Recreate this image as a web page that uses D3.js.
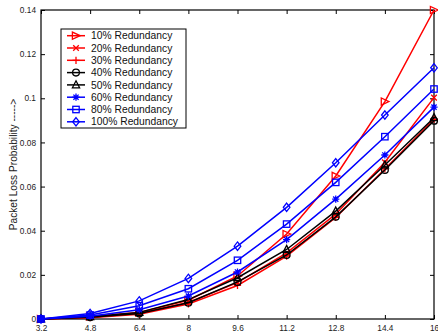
<!DOCTYPE html>
<html><head><meta charset="utf-8">
<script src="https://cdn.jsdelivr.net/npm/d3@7"></script>
<style>body{margin:0;background:#fff}svg{display:block}text{font-family:"Liberation Sans",Arial,sans-serif}</style>
</head><body><svg id="c" width="438" height="336"></svg>
<script>
const xValues = [3.2, 4.8, 6.4, 8, 9.6, 11.2, 12.8, 14.4, 16];
const xTickLabels = ["3.2","4.8","6.4","8","9.6","11.2","12.8","14.4","16"];
const yTicks = [0, 0.02, 0.04, 0.06, 0.08, 0.1, 0.12, 0.14];
const yTickLabels = ["0","0.02","0.04","0.06","0.08","0.1","0.12","0.14"];
const seriesNames = ["10% Redundancy","20% Redundancy","30% Redundancy","40% Redundancy","50% Redundancy","60% Redundancy","80% Redundancy","100% Redundancy"];
const r10  = [0, 0.0012, 0.0030, 0.0085, 0.0195, 0.0385, 0.0648, 0.0985, 0.1400];
const r20  = [0, 0.0008, 0.0027, 0.0075, 0.0165, 0.0300, 0.0475, 0.0710, 0.1003];
const r30  = [0, 0.0006, 0.0022, 0.0068, 0.0152, 0.0285, 0.0460, 0.0680, 0.0905];
const r40  = [0, 0.0008, 0.0025, 0.0074, 0.0168, 0.0290, 0.0463, 0.0675, 0.0898];
const r50  = [0, 0.0010, 0.0030, 0.0088, 0.0187, 0.0315, 0.0489, 0.0698, 0.0912];
const r60  = [0, 0.0013, 0.0042, 0.0104, 0.0213, 0.0360, 0.0543, 0.0743, 0.0960];
const r80  = [0, 0.0018, 0.0060, 0.0137, 0.0266, 0.0430, 0.0619, 0.0826, 0.1042];
const r100 = [0, 0.0025, 0.0082, 0.0184, 0.0330, 0.0506, 0.0708, 0.0924, 0.1138];
const seriesValues = [r10, r20, r30, r40, r50, r60, r80, r100];
const seriesColors = ["#ff0000","#ff0000","#ff0000","#000000","#000000","#0000ff","#0000ff","#0000ff"];
const seriesMarkers = ["triRight","x","plus","circle","triUp","star","square","diamond"];
const yLabel = "Packet Loss Probability ----->";

const svg = d3.select("#c");
const L = 41, R = 434, T = 10, B = 319;
const x = d3.scaleLinear().domain([3.2, 16]).range([L, R]);
const y = d3.scaleLinear().domain([0, 0.14]).range([B, T]);

const plot = svg.append("g");
const ax = d3.axisBottom(x).tickValues(xValues).tickFormat((d,i)=>xTickLabels[i]).tickSizeInner(-4).tickSizeOuter(0).tickPadding(6);
const gx = svg.append("g").attr("transform",`translate(0,${B})`).call(ax);
const axT = d3.axisTop(x).tickValues(xValues).tickFormat("").tickSizeInner(-4).tickSizeOuter(0);
const gxt = svg.append("g").attr("transform",`translate(0,${T})`).call(axT);
const ay = d3.axisLeft(y).tickValues(yTicks).tickFormat((d,i)=>yTickLabels[i]).tickSizeInner(-4).tickSizeOuter(0).tickPadding(5);
const gy = svg.append("g").attr("transform",`translate(${L},0)`).call(ay);
const ayR = d3.axisRight(y).tickValues(yTicks).tickFormat("").tickSizeInner(-4).tickSizeOuter(0);
const gyr = svg.append("g").attr("transform",`translate(${R},0)`).call(ayR);
[gx,gxt,gy,gyr].forEach(g=>{
  g.select(".domain").remove();
  g.selectAll("line").attr("stroke","#000").attr("stroke-width",1);
  g.selectAll("text").attr("fill","#222").style("font-size","8.3px").style("font-family","'Liberation Sans',Arial,sans-serif");
});
svg.append("rect").attr("x",L).attr("y",T).attr("width",R-L).attr("height",B-T).attr("fill","none").attr("stroke","#000").attr("stroke-width",1.2);

svg.append("text").attr("transform",`translate(17,${(T+B)/2}) rotate(-90)`).attr("text-anchor","middle")
  .style("font-size","10.2px").attr("fill","#222").text(yLabel);

function marker(g, type, cx, cy, color){
  const s = 3.6;
  const st = {stroke:color, "stroke-width":1.3, fill:"none"};
  let el;
  if (type==="triRight") el = g.append("path").attr("d",`M${cx+s+0.5},${cy} L${cx-s},${cy-s} L${cx-s},${cy+s} Z`);
  else if (type==="triUp") el = g.append("path").attr("d",`M${cx},${cy-s-0.5} L${cx+s},${cy+s*0.8} L${cx-s},${cy+s*0.8} Z`);
  else if (type==="x") el = g.append("path").attr("d",`M${cx-2.8},${cy-2.8}L${cx+2.8},${cy+2.8}M${cx-2.8},${cy+2.8}L${cx+2.8},${cy-2.8}`);
  else if (type==="plus") el = g.append("path").attr("d",`M${cx-3.6},${cy}L${cx+3.6},${cy}M${cx},${cy-3.6}L${cx},${cy+3.6}`);
  else if (type==="circle") el = g.append("circle").attr("cx",cx).attr("cy",cy).attr("r",3.4);
  else if (type==="star") el = g.append("path").attr("d",`M${cx-3.6},${cy}L${cx+3.6},${cy}M${cx},${cy-3.6}L${cx},${cy+3.6}M${cx-2.6},${cy-2.6}L${cx+2.6},${cy+2.6}M${cx-2.6},${cy+2.6}L${cx+2.6},${cy-2.6}`);
  else if (type==="square") el = g.append("rect").attr("x",cx-3.2).attr("y",cy-3.2).attr("width",6.4).attr("height",6.4);
  else if (type==="diamond") el = g.append("path").attr("d",`M${cx},${cy-4.2}L${cx+3.3},${cy}L${cx},${cy+4.2}L${cx-3.3},${cy}Z`);
  for (const k in st) el.attr(k, st[k]);
}

const line = d3.line().x((d,i)=>x(xValues[i])).y(d=>y(d));
svg.append("clipPath").attr("id","pc").append("rect").attr("x",L-6).attr("y",T-6).attr("width",R-L+12).attr("height",B-T+12);
const data = plot.attr("clip-path","url(#pc)");
seriesValues.forEach((vals, si)=>{
  const g = data.append("g");
  g.append("path").attr("d", line(vals)).attr("fill","none").attr("stroke",seriesColors[si]).attr("stroke-width",1.5);
  vals.forEach((v,i)=>marker(g, seriesMarkers[si], x(xValues[i]), y(v), seriesColors[si]));
});
plot.raise();

const lg = svg.append("g");
lg.append("rect").attr("x",61).attr("y",29).attr("width",125).attr("height",99).attr("fill","#fff").attr("stroke","#000").attr("stroke-width",1);
seriesNames.forEach((n, i)=>{
  const ly = 35.7 + i*12.3;
  lg.append("line").attr("x1",67).attr("x2",85).attr("y1",ly).attr("y2",ly).attr("stroke",seriesColors[i]).attr("stroke-width",1.5);
  marker(lg, seriesMarkers[i], 76, ly, seriesColors[i]);
  lg.append("text").attr("x",91).attr("y",ly+3.6).style("font-size","10.3px").attr("fill","#111").text(n);
});
</script></body></html>
